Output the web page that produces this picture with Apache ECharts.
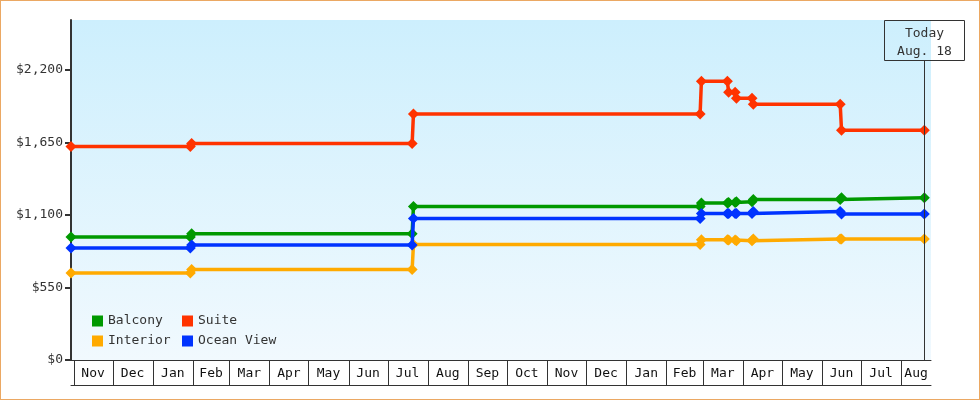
<!DOCTYPE html>
<html><head><meta charset="utf-8">
<script src="https://cdn.jsdelivr.net/npm/echarts@6/dist/echarts.min.js"></script>
<style>
html,body{margin:0;padding:0;background:#fff;}
#wrap{position:relative;width:980px;height:400px;}
#c{width:980px;height:400px;}
#frame{position:absolute;left:0;top:0;width:980px;height:400px;box-sizing:border-box;border:1px solid #eba863;pointer-events:none;}
</style></head>
<body>
<div id="wrap"><div id="c"></div><div id="frame"></div></div>
<script>
// ---- data ----
const dates = ['2013-10-30','2014-01-30','2014-01-31','2014-07-20','2014-07-21','2015-02-27','2015-02-28','2015-03-20','2015-03-21','2015-03-26','2015-03-27','2015-04-08','2015-04-09','2015-06-15','2015-06-16','2015-08-18 20:00'];
const balcony   = [933, 933, 958, 958, 1164, 1164, 1191, 1191, 1196, 1196, 1201, 1201, 1218, 1218, 1232, 1232];
const suite     = [1620, 1620, 1642, 1642, 1867, 1867, 2115, 2115, 2032, 2032, 1986, 1986, 1941, 1941, 1744, 1744];
const interior  = [661, 661, 686, 686, 876, 876, 913, 913, 910, 910, 905, 905, 918, 918, 918, 918];
const oceanView = [850, 850, 873, 873, 1073, 1073, 1112, 1112, 1112, 1112, 1112, 1112, 1127, 1127, 1108, 1108];
const seriesNames = ['Balcony', 'Suite', 'Interior', 'Ocean View'];
const yTicks = [0, 550, 1100, 1650, 2200];
const monthLabels = ['Nov','Dec','Jan','Feb','Mar','Apr','May','Jun','Jul','Aug','Sep','Oct','Nov','Dec','Jan','Feb','Mar','Apr','May','Jun','Jul','Aug'];
const firstMonth = [2013, 10]; // year, 0-based month of first label
const xMinStr = '2013-10-30', xMaxStr = '2015-08-24';
const todayDate = '2015-08-18 20:00';
const todayLabel = ['Today', 'Aug. 18'];

// ---- chart ----
const FONT = '"DejaVu Sans Mono", "Liberation Mono", monospace';
const colors = ['#009900', '#ff3300', '#ffaa00', '#0033ff'];
const values = [balcony, suite, interior, oceanView];
const xMin = echarts.time.parse(xMinStr).getTime();
const xMax = echarts.time.parse(xMaxStr).getTime();

const monthData = monthLabels.map((lab, i) => {
  const s = new Date(firstMonth[0], firstMonth[1] + i, 1).getTime();
  const e = new Date(firstMonth[0], firstMonth[1] + i + 1, 1).getTime();
  return [s, e, i];
});

const chart = echarts.init(document.getElementById('c'), null, {renderer: 'canvas'});

const lineSeries = seriesNames.map((name, k) => ({
  name: name,
  type: 'line',
  data: dates.map((d, i) => [d, values[k][i]]),
  symbol: 'diamond',
  symbolSize: 11,
  showAllSymbol: true,
  lineStyle: {width: 3.5, color: colors[k]},
  itemStyle: {color: colors[k]},
  emphasis: {disabled: true},
  z: 3 + k
}));

const legendCommon = {
  orient: 'horizontal', itemWidth: 11, itemHeight: 11, itemGap: 4, icon: 'rect', padding: 0,
  selectedMode: false,
  textStyle: {fontFamily: FONT, fontSize: 13, color: '#333', width: 70, lineHeight: 14}
};

const option = {
  animation: false,
  color: colors,
  grid: {
    left: 71, right: 49, top: 20, bottom: 40, show: true, borderWidth: 0,
    backgroundColor: new echarts.graphic.LinearGradient(0, 0, 0, 1, [
      {offset: 0, color: '#cdeffd'}, {offset: 1, color: '#f1f9fe'}
    ])
  },
  legend: [
    Object.assign({data: seriesNames.slice(0, 2), left: 92, top: 314}, legendCommon),
    Object.assign({data: seriesNames.slice(2, 4), left: 92, top: 334}, legendCommon)
  ],
  xAxis: [
    {type: 'time', min: xMin, max: xMax,
     axisLine: {lineStyle: {color: '#333', width: 1}},
     axisTick: {show: false}, axisLabel: {show: false}, splitLine: {show: false}},
    {type: 'time', min: xMin, max: xMax, position: 'bottom', offset: 25,
     axisLine: {show: true, lineStyle: {color: '#333', width: 1}},
     axisTick: {show: false}, axisLabel: {show: false}, splitLine: {show: false}}
  ],
  yAxis: {
    type: 'value', min: 0, max: 2580,
    axisLine: {show: true, lineStyle: {color: '#333', width: 2}},
    axisTick: {show: true, length: 6, lineStyle: {color: '#333', width: 2}, customValues: yTicks},
    axisLabel: {customValues: yTicks, margin: 8, color: '#333', fontFamily: FONT, fontSize: 13,
      padding: [6, 0, 0, 0],
      formatter: v => '$' + Number(v).toLocaleString('en-US')},
    splitLine: {show: false}
  },
  series: lineSeries.concat([
    {
      type: 'custom', name: 'months', silent: true, clip: false, z: 10,
      encode: {x: [0, 1], y: 2},
      data: monthData,
      renderItem: function (params, api) {
        const s0 = api.value(0), e0 = api.value(1), idx = api.value(2);
        const s = Math.max(s0, xMin), e = Math.min(e0, xMax);
        const p0 = api.coord([s, 0]), p1 = api.coord([e, 0]);
        const children = [];
        if (s0 >= xMin) {
          children.push({type: 'line', shape: {x1: Math.round(p0[0]) + 0.5, y1: p0[1], x2: Math.round(p0[0]) + 0.5, y2: p0[1] + 25},
            style: {stroke: '#333', lineWidth: 1}});
        }
        children.push({type: 'text', style: {text: monthLabels[idx], x: (p0[0] + p1[0]) / 2, y: p0[1] + 13.5,
          align: 'center', verticalAlign: 'middle', font: '13px ' + FONT, fill: '#111'}});
        return {type: 'group', children: children};
      }
    },
    {
      type: 'custom', name: 'today', silent: true, clip: false, z: 11,
      encode: {x: 0, y: 1},
      data: [[todayDate, 0]],
      renderItem: function (params, api) {
        const p = api.coord([api.value(0), 0]);
        const top = params.coordSys.y;
        const x = Math.round(p[0]) + 0.5;
        return {type: 'group', children: [
          {type: 'line', shape: {x1: x, y1: top + 40, x2: x, y2: p[1]}, style: {stroke: '#333', lineWidth: 1}},
          {type: 'rect', shape: {x: x - 40, y: top + 0.5, width: 80, height: 40}, style: {fill: 'none', stroke: '#333', lineWidth: 1}},
          {type: 'text', style: {text: todayLabel.join('\n'), x: x, y: top + 23, align: 'center', verticalAlign: 'middle',
            font: '13px ' + FONT, fill: '#333', lineHeight: 18}}
        ]};
      }
    }
  ])
};
chart.setOption(option);
</script>
</body></html>
